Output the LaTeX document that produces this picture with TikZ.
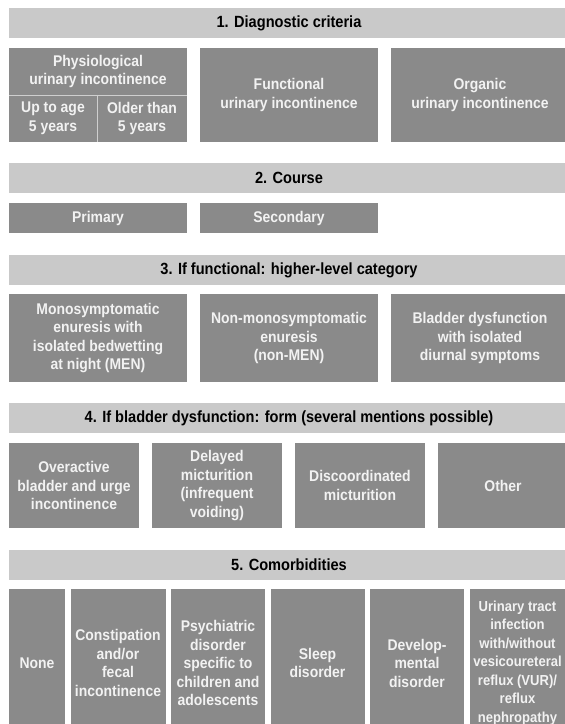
\documentclass[tikz,border=0pt]{standalone}
\usepackage{fontspec}
\setmainfont{Liberation Sans}[FakeStretch=0.9]
\usetikzlibrary{positioning}
\definecolor{hdrgray}{HTML}{C9C9C9}
\definecolor{cellgray}{HTML}{8A8A8A}
\definecolor{celltext}{HTML}{F2F2F2}
\definecolor{sepgray}{HTML}{CFCFCF}

\begin{document}
\begin{tikzpicture}[x=1pt,y=-1pt,font=\fontsize{15.5}{18.5}\selectfont\bfseries,
	hdr/.style={minimum width=560pt,minimum height=30pt,inner sep=0pt,outer sep=0pt,fill=hdrgray,anchor=north west,font=\fontsize{16.2}{18.5}\selectfont\bfseries},
	cell/.style={inner sep=0pt,outer sep=0pt,fill=cellgray,text=celltext,align=center},
	wide/.style={cell,minimum width=178pt},
	mid/.style={cell,minimum width=130pt,minimum height=85pt},
	tall/.style={cell,minimum height=148pt},
	sepline/.style={draw=sepgray,line width=1pt}]
	\useasboundingbox (0,0) rectangle (565,724);
	\clip (0,0) rectangle (565,724);
	% 1. diagnostic criteria
	\node [hdr] at (9,8) (crit) {1. Diagnostic criteria};
	\node [wide,minimum height=47pt,anchor=north west] at (9,48) (physio) {Physiological\\urinary incontinence};
	\node [cell,minimum width=88pt,minimum height=47pt,anchor=north west] at (physio.south west) (young) {Up to age\\5 years};
	\node [cell,minimum width=90pt,minimum height=47pt,anchor=north west] at (young.north east) (older) {Older than\\5 years};
	\node [wide,minimum height=94pt,anchor=north west] at ([xshift=13pt]physio.north east) (func) {Functional\\urinary incontinence};
	\node [wide,minimum height=94pt,right=13pt of func] (organic) {Organic\\urinary incontinence};
	\draw [sepline] (young.north west) -- (older.north east);
	\draw [sepline] (young.north east) -- (young.south east);
	% 2. course
	\node [hdr] at (9,163) (course) {2. Course};
	\node [wide,minimum height=30pt,anchor=north west] at (9,203) (primary) {Primary};
	\node [wide,minimum height=30pt,right=13pt of primary] (secondary) {Secondary};
	% 3. higher-level category
	\node [hdr] at (9,255) (category) {3. If functional: higher-level category};
	\node [wide,minimum height=88pt,anchor=north west] at (9,294) (men) {Monosymptomatic\\enuresis with\\isolated bedwetting\\at night (MEN)};
	\node [wide,minimum height=88pt,right=13pt of men] (nonmen) {Non-monosymptomatic\\enuresis\\(non-MEN)};
	\node [wide,minimum height=88pt,right=13pt of nonmen] (bladder) {Bladder dysfunction\\with isolated\\diurnal symptoms};
	% 4. form of bladder dysfunction
	\node [hdr] at (9,403) (form) {4. If bladder dysfunction: form (several mentions possible)};
	\node [mid,anchor=north west] at (9,443) (overactive) {Overactive\\bladder and urge\\incontinence};
	\node [mid,right=13pt of overactive] (delayed) {Delayed\\micturition\\(infrequent\\voiding)};
	\node [mid,right=13pt of delayed] (discoord) {Discoordinated\\micturition};
	\node [mid,right=13pt of discoord] (other) {Other};
	% 5. comorbidities
	\node [hdr] at (9,550) (comorb) {5. Comorbidities};
	\node [tall,minimum width=56pt,anchor=north west] at (9,589) (none) {None};
	\node [tall,minimum width=95pt,right=5.5pt of none] (constip) {Constipation\\and/or\\fecal\\incontinence};
	\node [tall,minimum width=94pt,right=5.5pt of constip] (psych) {Psychiatric\\disorder\\specific to\\children and\\adolescents};
	\node [tall,minimum width=94pt,right=5.5pt of psych] (sleep) {Sleep\\disorder};
	\node [tall,minimum width=94pt,right=5.5pt of sleep] (develop) {Develop-\\mental\\disorder};
	\node [tall,minimum width=96pt,right=5.5pt of develop,font=\fontsize{14.5}{18.5}\selectfont\bfseries] (uti) {Urinary tract\\infection\\with/without\\vesicoureteral\\reflux (VUR)/\\reflux\\nephropathy};
\end{tikzpicture}
\end{document}
